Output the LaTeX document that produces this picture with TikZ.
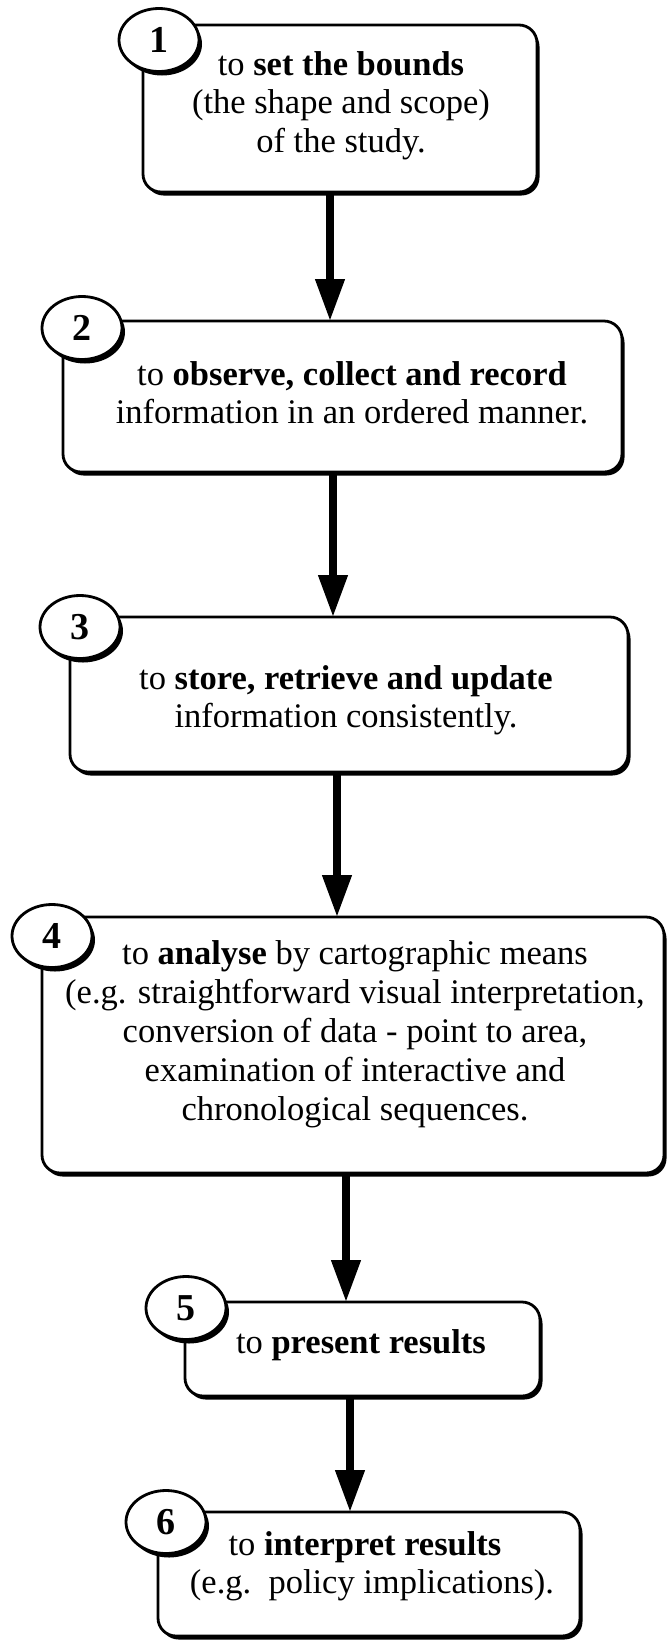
\documentclass[tikz,border=0pt]{standalone}
\usepackage{fontspec}
\setmainfont{Liberation Serif}
\usetikzlibrary{arrows.meta,shapes.geometric,shadows}
\begin{document}
\begin{tikzpicture}[x=1pt,y=-1pt,
  box/.style={draw, line width=2.8pt, rounded corners=18pt, fill=white, inner sep=0pt, outer sep=0pt,
     drop shadow={shadow xshift=2.5pt, shadow yshift=-3.5pt, fill=black, opacity=1}},
  num/.style={ellipse, draw, line width=2.8pt, fill=white, inner sep=0pt, minimum width=80pt, minimum height=63pt,
     drop shadow={shadow xshift=3pt, shadow yshift=-4pt, fill=black, opacity=1},
     font=\fontsize{38}{38}\selectfont\bfseries},
  txt/.style={anchor=base, inner sep=0pt, font=\fontsize{34.5}{38.5}\selectfont},
  arr/.style={line width=7.5pt, -{Triangle[width=28pt,length=42pt]}}
]
\useasboundingbox (0,0) rectangle (668,1642);

% boxes
\node[box, minimum width=394pt, minimum height=167pt] (b1) at (340,108.5) {};
\node[box, minimum width=559pt, minimum height=151pt] (b2) at (342.5,396.5) {};
\node[box, minimum width=558pt, minimum height=155pt] (b3) at (349,694.5) {};
\node[box, minimum width=622pt, minimum height=256pt] (b4) at (353,1045) {};
\node[box, minimum width=355pt, minimum height=94pt] (b5) at (362.5,1349) {};
\node[box, minimum width=422pt, minimum height=124pt] (b6) at (369,1574) {};

% number circles
\node[num] (c1) at (159,40) {1};
\node[num] (c2) at (82,328) {2};
\node[num] (c3) at (80,627) {3};
\node[num] (c4) at (52,936) {4};
\node[num] (c5) at (186,1308) {5};
\node[num] (c6) at (166,1522) {6};

% texts
\node[txt] (t1a) at (341,75) {to \textbf{set the bounds}};
\node[txt] (t1b) at (341,113) {(the shape and scope)};
\node[txt] (t1c) at (341,152) {of the study.};

\node[txt] (t2a) at (352,385) {to \textbf{observe, collect and record}};
\node[txt] (t2b) at (352,423) {information in an ordered manner.};

\node[txt] (t3a) at (346,689) {to \textbf{store, retrieve and update}};
\node[txt] (t3b) at (346,727) {information consistently.};

\node[txt] (t4a) at (355,964) {to \textbf{analyse} by cartographic means};
\node[txt] (t4b) at (355,1003) {(e.g. straightforward visual interpretation,};
\node[txt] (t4c) at (355,1042) {conversion of data - point to area,};
\node[txt] (t4d) at (355,1081) {examination of interactive and};
\node[txt] (t4e) at (355,1120) {chronological sequences.};

\node[txt] (t5a) at (361,1353) {to \textbf{present results}};

\node[txt] (t6a) at (365,1555) {to \textbf{interpret results}};
\node[txt] (t6b) at (372,1593) {(e.g.\ \ policy implications).};

% arrows
\coordinate (x1) at (330,0);
\coordinate (x2) at (333,0);
\coordinate (x3) at (337,0);
\coordinate (x4) at (346,0);
\coordinate (x5) at (350,0);
\draw[arr] (b1.south -| x1) -- (b2.north -| x1);
\draw[arr] (b2.south -| x2) -- (b3.north -| x2);
\draw[arr] (b3.south -| x3) -- (b4.north -| x3);
\draw[arr] (b4.south -| x4) -- (b5.north -| x4);
\draw[arr] (b5.south -| x5) -- (b6.north -| x5);
\end{tikzpicture}
\end{document}
